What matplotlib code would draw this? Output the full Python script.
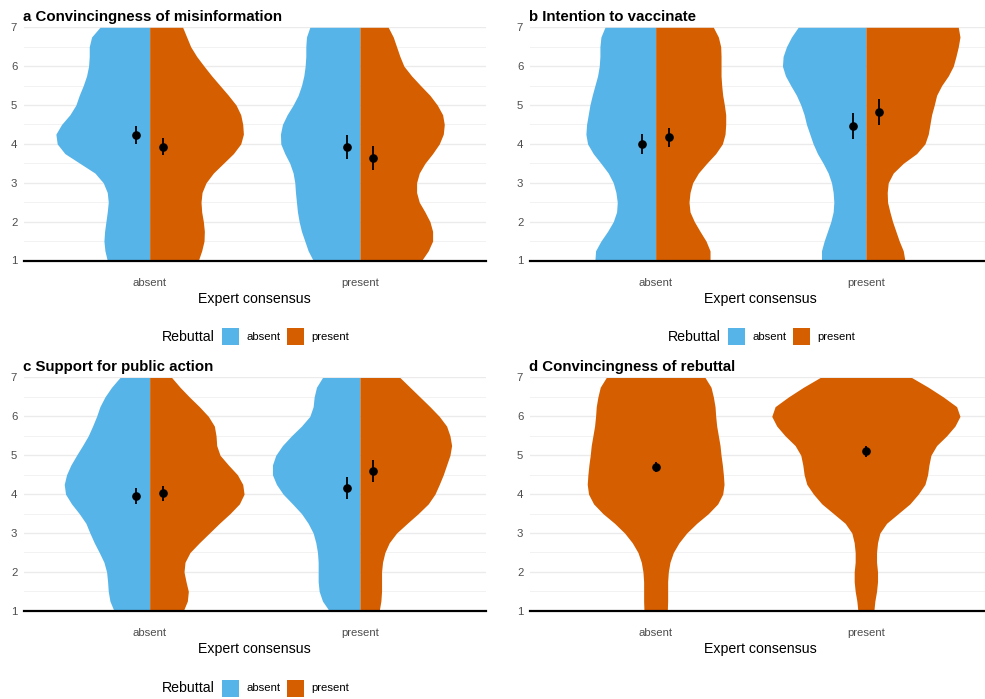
import matplotlib
matplotlib.use("Agg")
import matplotlib.pyplot as plt
from matplotlib.patches import Rectangle

plt.rcParams['font.family'] = ['Liberation Sans', 'DejaVu Sans']

W, H = 985, 699
BLUE = "#56B4E9"
ORANGE = "#D55E00"

consensus = ["absent", "present"]
rebuttal = ["absent", "present"]
score_levels = [1.0, 1.25, 1.5, 1.75, 2.0, 2.25, 2.5, 2.75, 3.0, 3.25, 3.5, 3.75, 4.0,
                4.25, 4.5, 4.75, 5.0, 5.25, 5.5, 5.75, 6.0, 6.25, 6.5, 6.75, 7.0]
WIDTH_SCALE = 1 / 630.0  # relative half-width units -> x data units

titles = ["a Convincingness of misinformation", "b Intention to vaccinate",
          "c Support for public action", "d Convincingness of rebuttal"]

# half-widths of the violins, bottom (1) to top (7); keys: (consensus, rebuttal)
a_abs_abs = [127,134,137,135,131,127,124,127,139,164,209,254,277,281,264,239,221,211,199,189,183,181,181,174,149]
a_abs_pre = [146,156,163,164,161,156,154,157,169,191,221,251,273,281,279,273,259,236,211,186,163,141,123,111,99]
a_pre_abs = [140,155,165,175,182,187,190,193,195,200,210,225,237,238,232,218,200,185,175,168,164,162,162,160,150]
a_pre_pre = [185,205,218,218,210,195,178,170,170,178,195,218,238,250,253,248,232,210,182,155,132,120,110,100,85]

b_abs_abs = [182,180,164,144,127,117,115,119,127,142,164,187,204,209,207,202,197,190,182,174,169,167,167,164,152]
b_abs_pre = [163,163,151,133,116,103,100,103,111,128,153,180,200,208,210,210,206,201,198,196,196,196,195,188,173]
b_pre_abs = [133,133,125,115,105,98,96,98,103,113,128,145,158,168,178,185,195,208,225,241,250,248,238,223,203]
b_pre_pre = [117,112,100,90,80,72,65,64,67,82,112,152,177,187,192,197,205,212,227,247,262,270,277,282,277]

c_abs_abs = [107,119,124,126,129,137,151,166,179,191,211,234,252,256,249,236,219,201,184,171,159,149,134,114,89]
c_abs_pre = [101,113,116,109,103,106,121,149,179,209,241,269,283,279,263,236,211,201,199,194,176,149,119,91,66]
c_pre_abs = [92,112,122,125,125,125,127,132,140,155,175,202,230,250,262,262,252,232,205,175,150,140,137,130,112]
c_pre_pre = [58,63,65,65,65,68,75,88,110,142,175,205,225,238,250,260,270,275,270,260,238,210,180,150,120]

d_abs = [35,36,36,36,38,43,53,70,93,123,158,186,201,205,203,200,196,193,188,183,180,178,173,166,148]
d_pre = [24,27,32,35,35,32,32,35,42,62,97,132,157,177,185,189,195,212,242,267,282,272,232,187,137]

# means and 95% CI: order (consensus absent/rebuttal absent, abs/pre, pre/abs, pre/pre)
a_mean = [4.24, 3.93, 3.92, 3.64]
a_lo = [4.01, 3.71, 3.61, 3.32]
a_hi = [4.46, 4.14, 4.22, 3.95]
b_mean = [4.00, 4.17, 4.47, 4.83]
b_lo = [3.75, 3.91, 4.13, 4.49]
b_hi = [4.25, 4.42, 4.79, 5.15]
c_mean = [3.95, 4.02, 4.16, 4.60]
c_lo = [3.74, 3.82, 3.88, 4.32]
c_hi = [4.15, 4.21, 4.44, 4.88]
d_mean = [4.70, 5.11]
d_lo = [4.57, 4.95]
d_hi = [4.82, 5.25]

split_panels = [
    (a_abs_abs, a_abs_pre, a_pre_abs, a_pre_pre, a_mean, a_lo, a_hi),
    (b_abs_abs, b_abs_pre, b_pre_abs, b_pre_pre, b_mean, b_lo, b_hi),
    (c_abs_abs, c_abs_pre, c_pre_abs, c_pre_pre, c_mean, c_lo, c_hi),
]

fig = plt.figure(figsize=(W / 100, H / 100), dpi=100)

def px_axes(left, top, right, bottom):
    return fig.add_axes([left / W, 1 - bottom / H, (right - left) / W, (bottom - top) / H])

panel_boxes = [
    (23.5, 27.3, 486, 260.5),
    (529.5, 27.3, 992, 260.5),
    (23.5, 377.5, 486, 610.8),
    (529.5, 377.5, 992, 610.8),
]

def style_axes(ax, title):
    ax.set_xlim(0.4, 2.6)
    ax.set_ylim(1, 7)
    ax.set_yticks(range(1, 8))
    ax.set_yticks([1.5, 2.5, 3.5, 4.5, 5.5, 6.5], minor=True)
    ax.grid(True, axis='y', which='major', color='#ebebeb', lw=1.0, zorder=0)
    ax.grid(True, axis='y', which='minor', color='#f2f2f2', lw=0.7, zorder=0)
    ax.set_axisbelow(True)
    for s in ['top', 'right', 'left']:
        ax.spines[s].set_visible(False)
    ax.spines['bottom'].set_color('black')
    ax.spines['bottom'].set_linewidth(1.6)
    ax.spines['bottom'].set_zorder(5)
    ax.set_xticks([1, 2])
    ax.set_xticklabels(consensus)
    ax.tick_params(axis='x', length=0, pad=12.5, labelsize=8.2, labelcolor='#4d4d4d')
    ax.tick_params(axis='y', which='both', length=0, pad=4.5, labelsize=8.2, labelcolor='#4d4d4d')
    ax.set_xlabel("Expert consensus", fontsize=10.2, color='black')
    ax.xaxis.set_label_coords(0.5, -0.165)
    ax.xaxis.label.set_va('center')
    ax.set_title(title, loc='left', fontsize=10.8, fontweight='bold', pad=4.5, x=-0.001)

def draw_half(ax, xc, widths, side, color):
    xs = [xc + side * w * WIDTH_SCALE for w in widths]
    ax.fill_betweenx(score_levels, xc, xs, color=color, lw=0, zorder=2)

def draw_full(ax, xc, widths, color):
    left = [xc - w * WIDTH_SCALE for w in widths]
    right = [xc + w * WIDTH_SCALE for w in widths]
    ax.fill_betweenx(score_levels, left, right, color=color, lw=0, zorder=2)

def draw_point(ax, x, m, lo, hi):
    ax.plot([x, x], [lo, hi], color='black', lw=1.3, zorder=4, solid_capstyle='butt')
    ax.plot([x], [m], 'o', color='black', ms=5.2, zorder=4)

DODGE = 0.063

for i, (aa, ap, pa, pp, mean, lo, hi) in enumerate(split_panels):
    ax = px_axes(*panel_boxes[i])
    style_axes(ax, titles[i])
    draw_half(ax, 1, aa, -1, BLUE)
    draw_half(ax, 1, ap, +1, ORANGE)
    draw_half(ax, 2, pa, -1, BLUE)
    draw_half(ax, 2, pp, +1, ORANGE)
    xs = [1 - DODGE, 1 + DODGE, 2 - DODGE, 2 + DODGE]
    for x, m, l, h in zip(xs, mean, lo, hi):
        draw_point(ax, x, m, l, h)

ax = px_axes(*panel_boxes[3])
style_axes(ax, titles[3])
for xc, widths in zip([1, 2], [d_abs, d_pre]):
    draw_full(ax, xc, widths, ORANGE)
for x, m, l, h in zip([1, 2], d_mean, d_lo, d_hi):
    draw_point(ax, x, m, l, h)

def draw_legend(cx, cy):
    total_left = cx - 93
    fig.text(total_left / W, 1 - cy / H, "Rebuttal", fontsize=10.2, ha='left', va='center')
    kx = total_left + 60
    for lab, col, off in [(rebuttal[0], BLUE, 0), (rebuttal[1], ORANGE, 65)]:
        r = Rectangle(((kx + off) / W, 1 - (cy + 8.5) / H), 16.5 / W, 17 / H,
                      transform=fig.transFigure, facecolor=col, edgecolor='none')
        fig.patches.append(r)
        fig.text((kx + off + 24.5) / W, 1 - cy / H, lab, fontsize=8.2, ha='left', va='center')

draw_legend(255, 337)
draw_legend(761, 337)
draw_legend(255, 688)

fig.savefig("out.png", dpi=100)
